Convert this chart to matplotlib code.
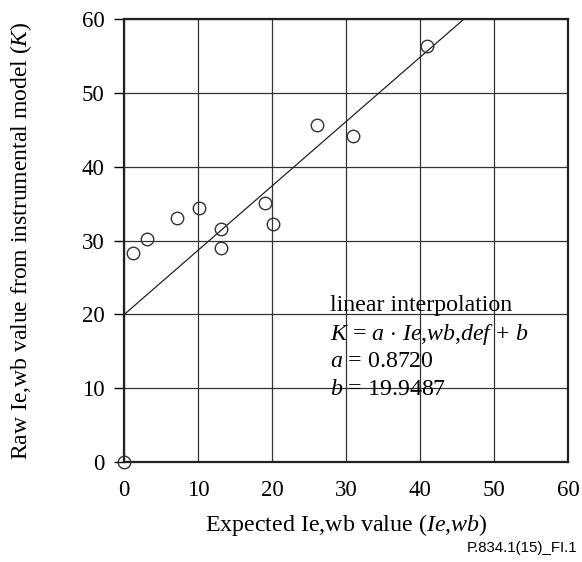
import numpy as np
import matplotlib
matplotlib.use('Agg')
import matplotlib.pyplot as plt

plt.rcParams['font.family'] = 'Liberation Serif'
plt.rcParams['mathtext.fontset'] = 'custom'
plt.rcParams['mathtext.rm'] = 'Liberation Serif'
plt.rcParams['mathtext.it'] = 'Liberation Serif:italic'

# measured points (expected Ie,wb vs raw model value K)
expected = [0, 1.2, 3.1, 7.2, 10.1, 13.1, 13.1, 19.1, 20.1, 26.1, 31.0, 40.9]
raw_k = [0, 28.3, 30.2, 33.0, 34.4, 31.6, 29.0, 35.1, 32.2, 45.6, 44.2, 56.3]

# linear fit
a = 0.8720
b = 19.9487

ticks = [0, 10, 20, 30, 40, 50, 60]

fig = plt.figure(figsize=(5.82, 5.62), dpi=100)
ax = fig.add_axes([0.213, 0.178, 0.763, 0.788])

ax.set_xlim(0, 60)
ax.set_ylim(0, 60)
ax.set_xticks(ticks)
ax.set_yticks(ticks)
ax.grid(True, color='#333333', linewidth=0.9)
ax.set_axisbelow(True)

xl = np.array([0, (60 - b) / a])
ax.plot(xl, a * xl + b, color='#222222', linewidth=0.9, zorder=3)
ax.plot(expected, raw_k, 'o', markersize=9, markerfacecolor='none',
        markeredgecolor='#333333', markeredgewidth=1.0, clip_on=False, zorder=4)

for s in ax.spines.values():
    s.set_linewidth(1.6)
    s.set_color('#222222')

ax.tick_params(axis='x', length=0, pad=13, labelsize=16.5)
ax.tick_params(axis='y', length=7, width=1, direction='out', pad=7, labelsize=16.5)

ax.set_xlabel('Expected Ie,wb value ($Ie{,}wb$)', fontsize=17.3)
ax.set_ylabel('Raw Ie,wb value from instrumental model ($K$)', fontsize=17)
ax.xaxis.set_label_coords(0.5, -0.113)
ax.yaxis.set_label_coords(-0.203, 0.5)

tx = 27.8
fs = 17.2
ax.text(tx, 20.46, 'linear interpolation', fontsize=fs, va='baseline')
ax.text(tx, 16.5, r'$K$ = $a$ $\cdot$ $Ie{,}wb{,}def$ + $b$', fontsize=fs, va='baseline')
ax.text(tx, 12.87, r'$a$ = 0.8720', fontsize=fs, va='baseline')
ax.text(tx, 9.08, r'$b$ = 19.9487', fontsize=fs, va='baseline')

fig.text(0.992, 0.0258, 'P.834.1(15)_FI.1', fontsize=10.8, ha='right', va='center',
         family='Liberation Sans')

fig.savefig('out.png', dpi=100)
